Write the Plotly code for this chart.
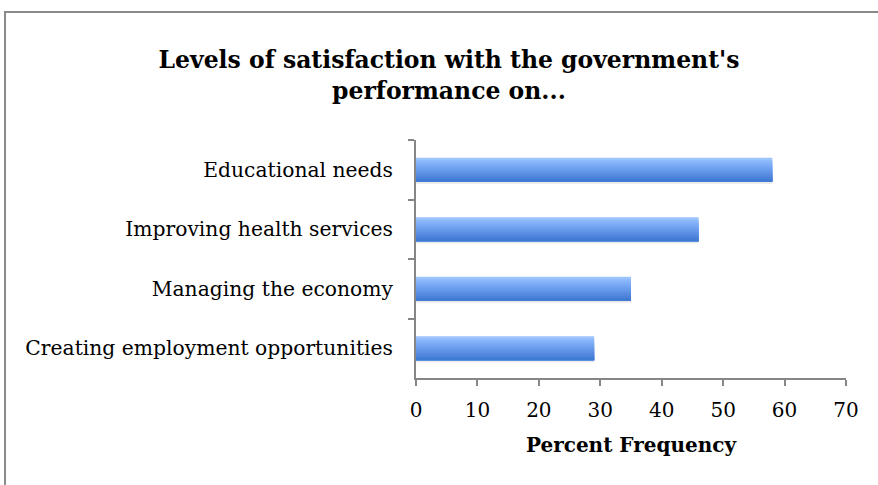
import plotly.graph_objects as go

# Survey results: share of respondents satisfied, by policy area
categories = [
    "Educational needs",
    "Improving health services",
    "Managing the economy",
    "Creating employment opportunities",
]
percent = [58, 46, 35, 29]

title_text = "Levels of satisfaction with the government's<br>performance on..."
x_title = "Percent Frequency"
x_ticks = [0, 10, 20, 30, 40, 50, 60, 70]

FONT = "DejaVu Serif"
W, H = 878, 485
ML, MR, MT, MB = 416, 32, 140, 107

fig = go.Figure()

# soft drop shadow under each bar
fig.add_trace(go.Bar(
    x=percent, y=categories, orientation="h",
    width=0.40, offset=-0.165,
    marker=dict(color="rgba(0,0,0,0.09)", line=dict(width=0)),
    hoverinfo="skip", showlegend=False,
))

# vertical gradient: stacked overlapping bands, each one starting lower and
# running to the bottom edge, so the colour darkens from top to bottom
grad = ["#9cc4fe", "#8cb8fb", "#81b0f7", "#78a8f3", "#6fa0ef",
        "#6698ea", "#5d90e4", "#5488de", "#4a81d9", "#3f7ad3"]
band = 0.40
n = len(grad)
for i, c in enumerate(grad):
    top = -band / 2 + i * band / n
    fig.add_trace(go.Bar(
        x=percent, y=categories, orientation="h",
        width=band / 2 - top, offset=top,
        marker=dict(color=c, line=dict(width=0)),
        hoverinfo="skip", showlegend=False,
    ))

fig.update_layout(
    width=W, height=H,
    margin=dict(l=ML, r=MR, t=MT, b=MB),
    barmode="overlay",
    paper_bgcolor="white", plot_bgcolor="white",
    font=dict(family=FONT, color="black"),
    title=dict(
        text=title_text, x=449 / W, xanchor="center",
        y=1 - 68 / H, yanchor="middle",
        font=dict(family=FONT, size=23.5, color="black", weight="bold"),
    ),
    xaxis=dict(
        range=[0, 70], tickvals=x_ticks, showgrid=False, zeroline=False,
        showline=True, linecolor="#868686", linewidth=2,
        ticks="outside", ticklen=6, tickcolor="#868686", tickwidth=2,
        tickfont=dict(size=20, family=FONT),
        ticklabelstandoff=7,
        title=dict(text=x_title, font=dict(size=20, family=FONT, weight="bold"),
                   standoff=17),
        fixedrange=True,
    ),
    yaxis=dict(
        autorange="reversed", showgrid=False, zeroline=False,
        showline=True, linecolor="#868686", linewidth=2,
        ticks="outside", ticklen=6, tickcolor="#868686", tickwidth=2,
        tickson="boundaries",
        tickfont=dict(size=20.3, family=FONT),
        ticklabelstandoff=17,
        fixedrange=True,
    ),
)

# outer chart frame
pw, ph = W - ML - MR, H - MT - MB
fig.add_shape(
    type="rect", xref="paper", yref="paper",
    x0=(5 - ML) / pw, x1=(W + 20 - ML) / pw,
    y0=-(H + 20 - (H - MB)) / ph, y1=1 + (MT - 12) / ph,
    line=dict(color="#8a8a8a", width=2), fillcolor="rgba(0,0,0,0)", layer="below",
)

fig.write_html("out.html")
